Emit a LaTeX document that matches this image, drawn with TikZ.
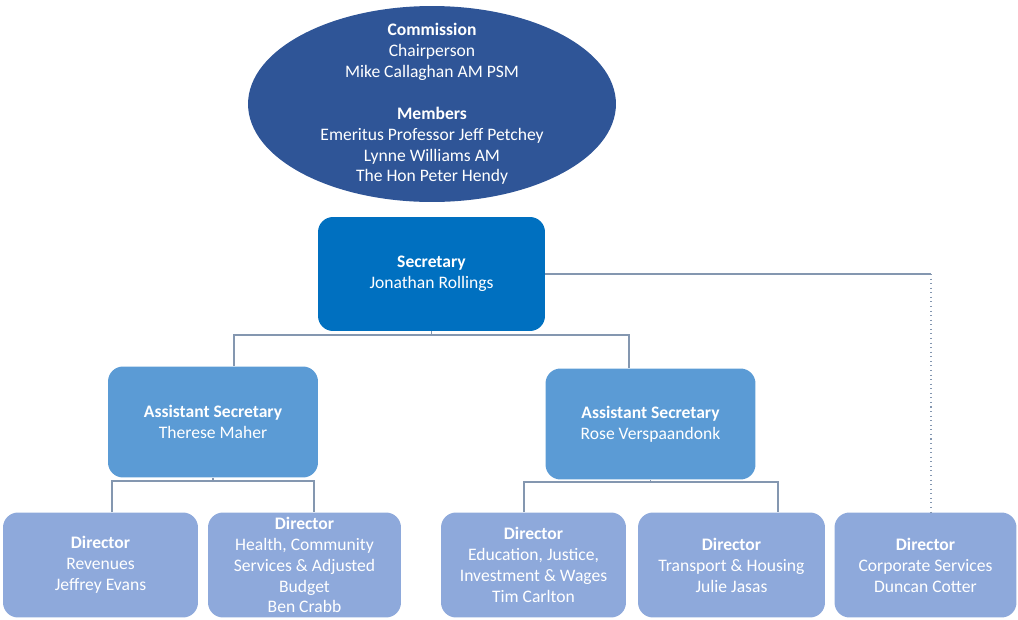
\documentclass[tikz,border=0pt]{standalone}
\usepackage{fontspec}
\setmainfont{Carlito}
\usetikzlibrary{shapes.geometric}

\definecolor{commblue}{HTML}{2F5597}
\definecolor{secblue}{HTML}{0070C0}
\definecolor{asblue}{HTML}{5B9BD5}
\definecolor{dirblue}{HTML}{8EA9DB}
\definecolor{linkgrey}{HTML}{8497B0}

\tikzset{
  box/.style={rounded corners=0.3cm, align=center, text=white, inner sep=0pt,
    font=\fontsize{10}{11.9}\selectfont},
  secbox/.style={box, fill=secblue, minimum width=4.54cm, minimum height=2.28cm},
  asbox/.style={box, fill=asblue, minimum width=4.2cm, minimum height=2.22cm},
  dirbox/.style={box, fill=dirblue, minimum height=2.1cm},
  link/.style={draw=linkgrey, line width=0.6pt}
}

\begin{document}
\begin{tikzpicture}[x=0.02cm, y=-0.02cm]
\useasboundingbox (0,0) rectangle (1018,619);

\node [ellipse, fill=commblue, inner sep=0pt,
  minimum width=7.36cm, minimum height=3.92cm] (comm) at (432,104) {};
\node [box] (commtext) at (comm.center)
  {\textbf{Commission}\\ Chairperson\\ Mike Callaghan AM PSM\\[11.9pt]
   \textbf{Members}\\ Emeritus Professor Jeff Petchey\\ Lynne Williams AM\\ The Hon Peter Hendy};

\node [secbox] (sec) at (431.5,274) {\textbf{Secretary}\\ Jonathan Rollings};

\node [asbox] (as1) at (213,422) {\textbf{Assistant Secretary}\\ Therese Maher};
\node [asbox] (as2) at (650.5,424) {\textbf{Assistant Secretary}\\ Rose Verspaandonk};

\node [dirbox, minimum width=3.9cm] (dir1) at (100.5,565)
  {\textbf{Director}\\ Revenues\\ Jeffrey Evans};
\node [dirbox, minimum width=3.86cm] (dir2) at (304.5,565)
  {\textbf{Director}\\ Health, Community\\ Services \& Adjusted\\ Budget\\ Ben Crabb};
\node [dirbox, minimum width=3.7cm] (dir3) at (533.5,565)
  {\textbf{Director}\\ Education, Justice,\\ Investment \& Wages\\ Tim Carlton};
\node [dirbox, minimum width=3.74cm] (dir4) at (731.5,565)
  {\textbf{Director}\\ Transport \& Housing\\ Julie Jasas};
\node [dirbox, minimum width=3.64cm] (dir5) at (925.5,565)
  {\textbf{Director}\\ Corporate Services\\ Duncan Cotter};

\coordinate (j1) at (234,335);
\coordinate (j2) at (629,335);
\draw [link] (sec.south) -- (sec.south |- j1);
\draw [link] (as1.north -| j1) -- (j1) -- (j2) -- (as2.north -| j2);

\coordinate (k) at (931,274);
\draw [link] (sec.east) -- (k);
\draw [link, dotted] (k) -- (dir5.north -| k);

\coordinate (l1) at (112,481);
\coordinate (l2) at (314,481);
\draw [link] (as1.south) -- (as1.south |- l1);
\draw [link] (dir1.north -| l1) -- (l1) -- (l2) -- (dir2.north -| l2);

\coordinate (r1) at (524,482);
\coordinate (r2) at (778,482);
\draw [link] (as2.south) -- (as2.south |- r1);
\draw [link] (dir3.north -| r1) -- (r1) -- (r2) -- (dir4.north -| r2);
\end{tikzpicture}
\end{document}
